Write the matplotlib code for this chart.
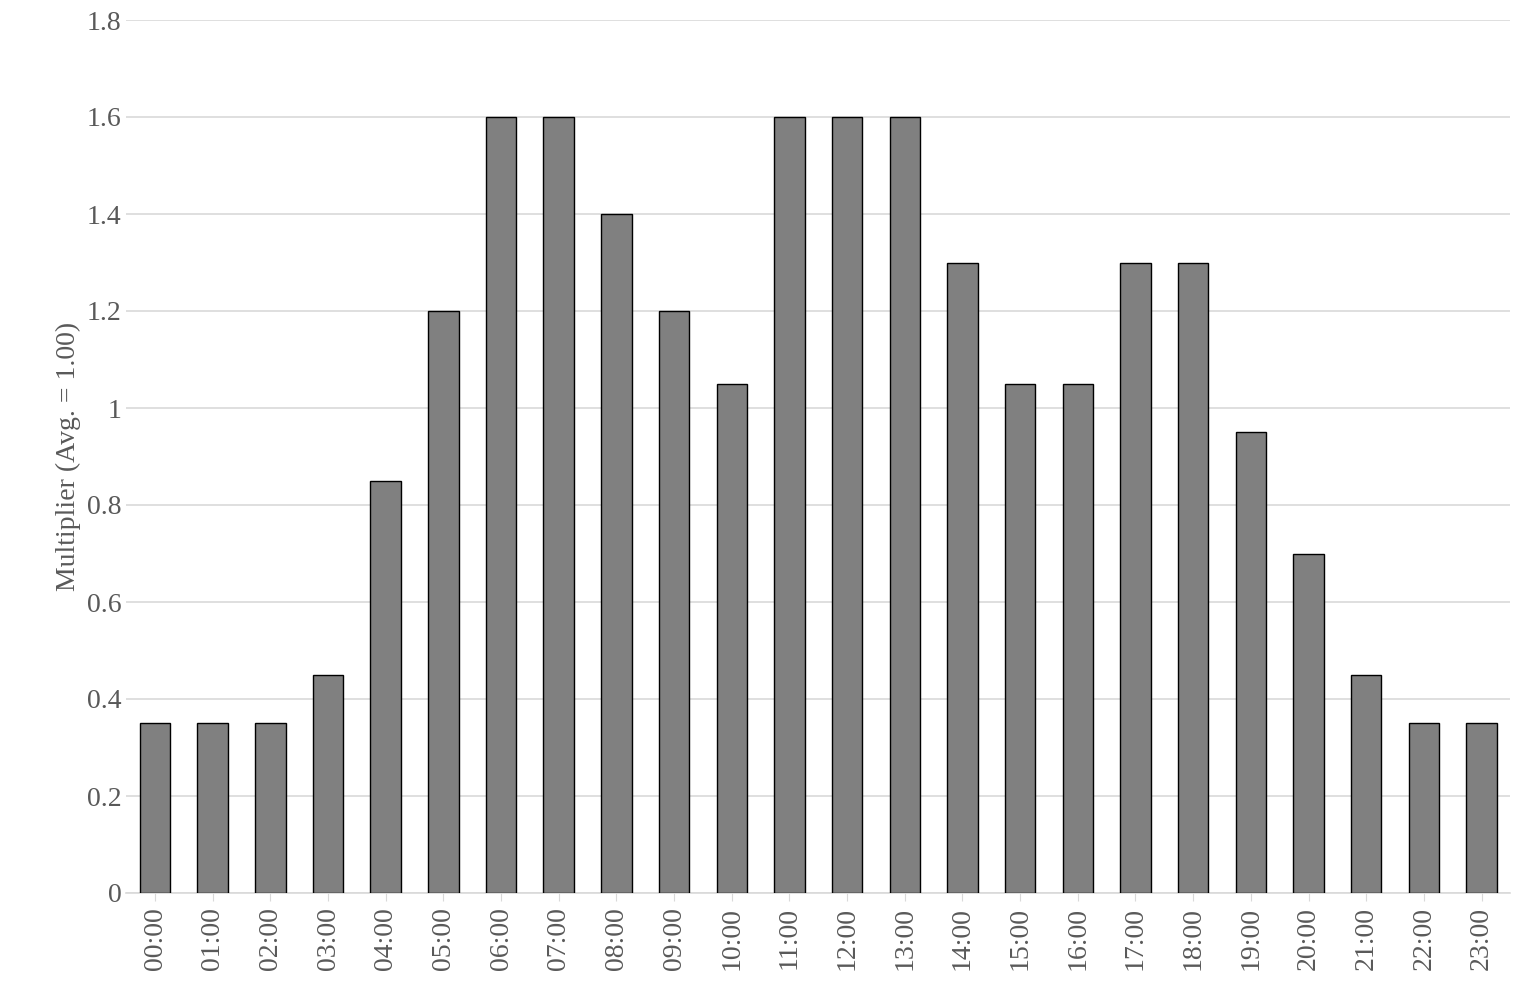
import matplotlib.pyplot as plt

hours = ['%02d:00' % h for h in range(24)]
multiplier = [0.35, 0.35, 0.35, 0.45, 0.85, 1.2, 1.6, 1.6, 1.4, 1.2, 1.05, 1.6,
              1.6, 1.6, 1.3, 1.05, 1.05, 1.3, 1.3, 0.95, 0.7, 0.45, 0.35, 0.35]

plt.rcParams['font.family'] = ['Liberation Serif', 'DejaVu Serif']
fig = plt.figure(figsize=(15.21, 10), dpi=100)
ax = fig.add_axes([0.083, 0.107, 0.910, 0.873])

ax.bar(range(24), multiplier, width=0.53, color='#808080', edgecolor='black', linewidth=1, zorder=3)
ax.set_xlim(-0.5, 23.5)
ax.set_ylim(0, 1.8)
ax.set_yticks([0, 0.2, 0.4, 0.6, 0.8, 1, 1.2, 1.4, 1.6, 1.8])
ax.set_yticklabels(['0', '0.2', '0.4', '0.6', '0.8', '1', '1.2', '1.4', '1.6', '1.8'])
ax.set_xticks(range(24))
ax.set_xticklabels(hours, rotation=90)
ax.tick_params(axis='both', labelsize=20, colors='#595959', length=0)
ax.tick_params(axis='x', length=6, color='#d9d9d9', pad=4)
ax.grid(axis='y', color='#d9d9d9', linewidth=1.2, zorder=0)
for s in ['top', 'right', 'left']:
    ax.spines[s].set_visible(False)
ax.spines['bottom'].set_color('#d9d9d9')
ax.spines['bottom'].set_linewidth(1.2)
ax.set_ylabel('Multiplier (Avg. = 1.00)', fontsize=20, color='#595959')

plt.savefig('out.png')
